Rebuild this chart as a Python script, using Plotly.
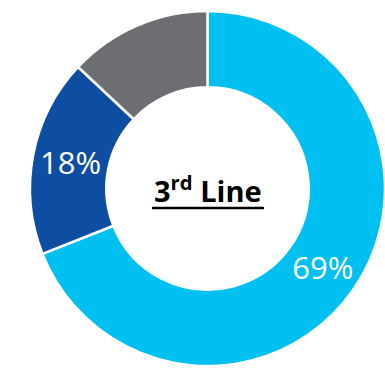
import plotly.graph_objects as go

categories = ["A", "B", "C"]
values = [69, 18, 13]
labels_text = ["69%", "18%", ""]
colors = ["#00C0F1", "#0D4EA2", "#6D6E71"]
center_title = "<b>3<sup>rd</sup> Line</b>"

W, H = 385, 376
fig = go.Figure(go.Pie(
    labels=categories,
    values=values,
    text=labels_text,
    textinfo="text",
    textposition="inside",
    insidetextorientation="horizontal",
    hole=0.57,
    sort=False,
    direction="clockwise",
    rotation=0,
    marker=dict(colors=colors, line=dict(color="white", width=2.5)),
    insidetextfont=dict(family="Open Sans", size=31, color="white"),
    domain=dict(x=[30 / W, 1.0], y=[(H - 366.5) / H, (H - 10.5) / H]),
    showlegend=False,
    hoverinfo="none",
))
fig.add_annotation(
    text=center_title,
    x=208 / W, y=(H - 189) / H, xref="paper", yref="paper",
    showarrow=False,
    font=dict(family="Open Sans", size=29, color="black"),
)
fig.add_shape(
    type="line", xref="paper", yref="paper",
    x0=152 / W, x1=264 / W, y0=(H - 208) / H, y1=(H - 208) / H,
    line=dict(color="black", width=2.5),
)
fig.update_layout(
    width=W, height=H,
    margin=dict(l=0, r=0, t=0, b=0),
    paper_bgcolor="white", plot_bgcolor="white",
)
fig.write_html("out.html", config={"displayModeBar": False},
               post_script="document.body.style.margin='0';")
